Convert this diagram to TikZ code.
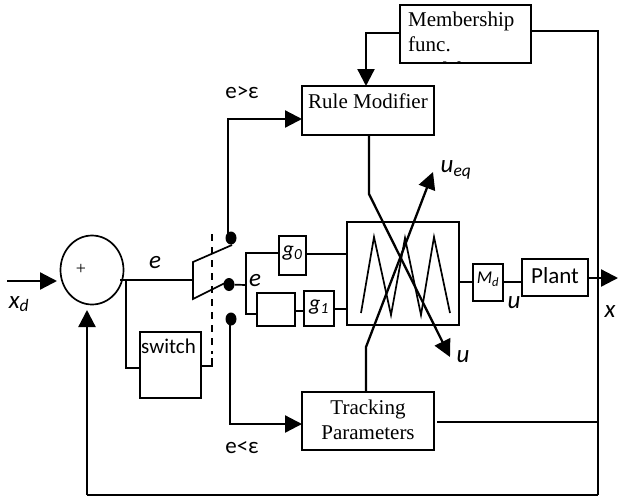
\documentclass[tikz,border=0pt]{standalone}
\usepackage{fontspec}
\setmainfont{Liberation Serif}
\newfontfamily\calfont{Carlito}
\usetikzlibrary{arrows.meta,shapes.geometric}
\tikzset{
  block/.style={draw, line width=1.7pt, inner sep=0pt, outer sep=0pt},
  wire/.style={line width=1.7pt},
  flow/.style={line width=2.3pt, -{Triangle[length=17pt,width=17pt]}},
  contact/.style={ellipse, fill=black, minimum width=11pt, minimum height=13pt, inner sep=0pt},
  serif/.style={inner sep=0pt, font=\fontsize{21}{25}\selectfont},
  cal/.style={inner sep=0pt, font=\fontsize{23}{27}\calfont},
  calit/.style={inner sep=0pt, font=\fontsize{25}{29}\calfont\itshape},
  calgain/.style={inner sep=0pt, font=\fontsize{22}{26}\calfont\itshape},
  calsm/.style={inner sep=0pt, font=\fontsize{18}{22}\calfont\itshape}
}
\begin{document}
\begin{tikzpicture}[x=1pt,y=-1pt]
    \useasboundingbox (0,0) rectangle (618,499);

    % Summing junction
    \node[block, ellipse, minimum width=63pt, minimum height=69pt] (sum) at (92,270) {};
    \node[inner sep=0pt, font=\fontsize{18}{20}\selectfont] (plus) at (81,269) {+};

    % Blocks
    \node[block, minimum width=61pt, minimum height=66pt] (switch) at (170.5,365) {};
    \node[cal, font=\fontsize{21}{25}\calfont] (switchtxt) at (168.5,346) {switch};
    \node[block, minimum width=132pt, minimum height=49pt] (rule) at (368,110.5) {};
    \node[serif] (ruletxt) at (368,101) {Rule Modifier};
    \node[block, minimum width=132pt, minimum height=58pt, align=center] (track) at (368,421) {};
    \node[serif, align=center] (tracktxt) at (368,420) {Tracking\\Parameters};
    \node[block, minimum width=27pt, minimum height=39pt] (gzero) at (292.5,255.5) {};
    \node[calgain] (gzerotxt) at (292.5,253) {g\textsubscript{0}};
    \node[block, minimum width=38pt, minimum height=33pt] (blank) at (276,309.5) {};
    \node[block, minimum width=30pt, minimum height=35pt] (gone) at (319,308.5) {};
    \node[calgain] (gonetxt) at (319,307) {g\textsubscript{1}};
    \node[block, minimum width=112pt, minimum height=103pt] (fuzzy) at (403,273.5) {};
    \node[block, minimum width=30pt, minimum height=37pt] (md) at (488,282.5) {};
    \node[calsm] (mdtxt) at (488,279) {M\textsubscript{d}};
    \node[block, minimum width=66pt, minimum height=37pt] (plant) at (555,277.5) {};
    \node[cal] (planttxt) at (555,276) {Plant};

    % Membership box, its last line is cut off by the frame
    \begin{scope}
      \clip (400,5) rectangle (531,63);
      \node[serif, anchor=north west, align=left] (membertxt) at (408,12) {Membership\\func.\\Modifier};
    \end{scope}
    \node[block, minimum width=131pt, minimum height=58pt] (member) at (465.5,34) {};

    % Triangles inside the fuzzy block
    \draw[wire] (361,313) -- (374,237) -- (391,315) -- (405,238) -- (421,315) -- (434,237) -- (450,313);

    % Switch contacts
    \node[contact] (ctop) at (231,238) {};
    \node[contact] (cmid) at (229,284.5) {};
    \node[contact] (cbot) at (231,319) {};
    \draw[wire] (232,245) -- (193,262) -- (193,299) -- (225,283);
    \draw[wire, dash pattern=on 7pt off 6pt] (212,234) -- (212,354);
    \coordinate (dashend) at (212,358);
    \draw[wire] (dashend) |- (switch.east |- 0,366);

    % Error path
    \coordinate (xdin) at (7,281);
    \coordinate (xdtip) at (57,281);
    \draw[flow] (xdin) -- (xdtip);
    \coordinate (eout) at (120,280);
    \coordinate (swin) at (193,280);
    \coordinate (tap) at (126,280);
    \draw[wire] (eout) -- (swin);
    \draw[line width=2.6pt] (158,280) -- (172,280);
    \draw[wire] (tap) |- (switch.west |- 0,368);

    % Branches
    \coordinate (branch) at (246,285);
    \draw[wire] (cmid) -- (branch);
    \draw[wire] (gzero.west |- 0,253) -| (branch) |- (blank.west |- 0,314);
    \draw[wire] (blank.east |- 0,311) -- (gone.west |- 0,311);
    \draw[wire] (gzero.east |- 0,254) -- (fuzzy.west |- 0,254);
    \draw[wire] (gone.east |- 0,309) -- (fuzzy.west |- 0,309);
    \draw[wire] (fuzzy.east |- 0,282) -- (md.west |- 0,282);
    \draw[wire] (md.east |- 0,282) -- (plant.west |- 0,282);

    % Paths to the rule modifier and the tracking block
    \draw[flow] (228,238) |- (rule.west |- 0,119);
    \draw[flow] (230,319) |- (track.west |- 0,424);
    \draw[flow] (member.west |- 0,33) -| (rule.north -| 366,0);

    % Crossing lines
    \coordinate (rulebend) at (369,194);
    \coordinate (utip) at (450,357);
    \coordinate (trackbend) at (366,347);
    \coordinate (ueqtip) at (433,172);
    \draw[flow] (rule.south -| rulebend) -- (rulebend) -- (utip);
    \draw[flow] (track.north -| trackbend) -- (trackbend) -- (ueqtip);

    % Output and feedback
    \coordinate (xtip) at (618,278);
    \coordinate (corner) at (598,31);
    \coordinate (fbk) at (598,495);
    \coordinate (fbkend) at (87,495);
    \coordinate (sumtip) at (87,310);
    \coordinate (trackout) at (437,422);
    \draw[flow] (plant.east |- xtip) -- (xtip);
    \draw[wire] (member.east |- corner) -- (corner) -- (fbk);
    \draw[wire] (trackout) -- (trackout -| corner);
    \draw[wire] (fbk) -- (fbkend);
    \draw[flow] (fbkend) -- (sumtip);

    % Labels
    \node[calit] (xdlbl) at (19,304) {x\textsubscript{d}};
    \node[calit] (elbl) at (155,263) {e};
    \node[calit] (ebranch) at (255,281) {e};
    \node[cal] (gtlbl) at (242,93) {e>ε};
    \node[cal] (ltlbl) at (242,448) {e<ε};
    \node[calit] (ueqlbl) at (456,170) {u\textsubscript{eq}};
    \node[calit] (ulbl) at (463,357) {u};
    \node[calit] (uplant) at (514,303) {u};
    \node[calit] (xlbl) at (610,312) {x};
\end{tikzpicture}
\end{document}
